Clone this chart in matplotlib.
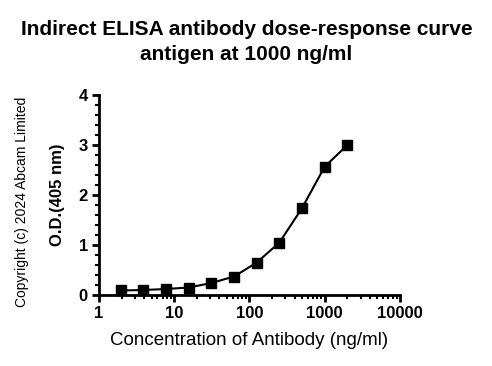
import matplotlib
matplotlib.use("Agg")
import matplotlib.pyplot as plt
from matplotlib.ticker import LogLocator, FixedLocator, MultipleLocator

plt.rcParams['font.family'] = ['Liberation Sans', 'DejaVu Sans']

concentration = [1.953, 3.906, 7.8125, 15.625, 31.25, 62.5, 125, 250, 500, 1000, 2000]
od_405 = [0.09, 0.10, 0.12, 0.15, 0.24, 0.37, 0.65, 1.05, 1.74, 2.57, 3.00]
x_ticks = [1, 10, 100, 1000, 10000]
x_tick_labels = ["1", "10", "100", "1000", "10000"]
y_ticks = [0, 1, 2, 3, 4]

fig = plt.figure(figsize=(4.92, 3.66), dpi=100)
ax = fig.add_axes([0.201, 0.194, 0.612, 0.546])

ax.plot(concentration, od_405, color='black', linewidth=1.5, marker='s',
        markersize=6.5, clip_on=False, zorder=3)

ax.set_xscale('log')
ax.set_xlim(1, 10000)
ax.set_ylim(0, 4)
ax.xaxis.set_major_locator(FixedLocator(x_ticks))
ax.set_xticklabels(x_tick_labels)
ax.xaxis.set_minor_locator(LogLocator(base=10, subs=range(2, 10), numticks=20))
ax.yaxis.set_major_locator(FixedLocator(y_ticks))
ax.yaxis.set_minor_locator(MultipleLocator(0.2))

for s in ['top', 'right']:
    ax.spines[s].set_visible(False)
for s in ['left', 'bottom']:
    ax.spines[s].set_linewidth(2)

ax.tick_params(which='major', length=5, width=2, direction='out', labelsize=12, pad=3)
ax.tick_params(which='minor', length=3, width=1.5, direction='out')
for lab in ax.get_xticklabels() + ax.get_yticklabels():
    lab.set_fontweight('bold')

ax.set_xlabel('Concentration of Antibody (ng/ml)', fontsize=13.5, labelpad=8)
ax.set_ylabel('O.D.(405 nm)', fontsize=12, fontweight='bold', labelpad=10)

fig.text(0.501, 1 - 35 / 366, 'Indirect ELISA antibody dose-response curve',
         ha='center', va='baseline', fontsize=15, fontweight='bold')
fig.text(0.501, 1 - 60 / 366, 'antigen at 1000 ng/ml',
         ha='center', va='baseline', fontsize=15, fontweight='bold')
fig.text(0.045, 0.448, 'Copyright (c) 2024 Abcam Limited', rotation=90,
         ha='center', va='center', fontsize=10)

fig.savefig('out.png', dpi=100)
